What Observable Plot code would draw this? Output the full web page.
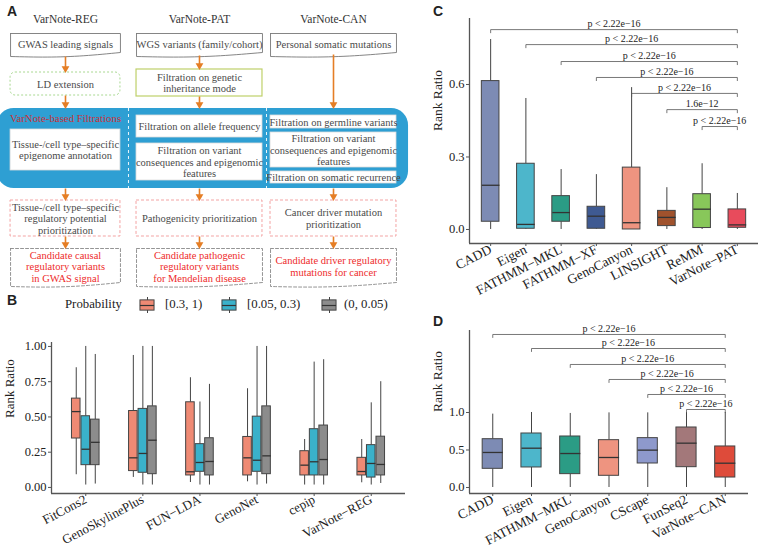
<!DOCTYPE html>
<html><head><meta charset="utf-8">
<script src="https://cdn.jsdelivr.net/npm/d3@7"></script>
<script src="https://cdn.jsdelivr.net/npm/@observablehq/plot@0.6"></script>
<style>
html,body{margin:0;padding:0;background:#fff;}
#root{position:relative;width:758px;height:548px;overflow:hidden;font-family:'Liberation Serif','Times New Roman',serif;color:#222;}
.pnl{position:absolute;}
.pnl svg text{font-family:'Liberation Serif','Times New Roman',serif;}
.letter{position:absolute;font-family:'Liberation Sans',Arial,sans-serif;font-weight:bold;font-size:14px;line-height:1;}
.lg{position:absolute;font-size:12.8px;line-height:1;white-space:nowrap;}
</style></head><body><div id="root"></div>
<script>
// ---------------- Panel A data ----------------
const aHeads = ["VarNote-REG", "VarNote-PAT", "VarNote-CAN"];
const aInputs = ["GWAS leading signals", "WGS variants (family/cohort)", "Personal somatic mutations"];
const aPre = ["LD extension", "Filtration on genetic\ninheritance mode"];
const aBlockTitle = "VarNote-based Filtrations";
const aFilters = [
  ["Tissue-/cell type\u2013specific\nepigenome annotation"],
  ["Filtration on allele frequency", "Filtration on variant\nconsequences and epigenomic\nfeatures"],
  ["Filtration on germline variants", "Filtration on variant\nconsequences and epigenomic\nfeatures", "Filtration on somatic recurrence"]
];
const aPrior = ["Tissue-/cell type\u2013specific\nregulatory potential\nprioritization", "Pathogenicity prioritization", "Cancer driver mutation\nprioritization"];
const aOutputs = ["Candidate causal\nregulatory variants\nin GWAS signal", "Candidate pathogenic\nregulatory variants\nfor Mendelian disease", "Candidate driver regulatory\nmutations for cancer"];

// ---------------- Panel B data ----------------
const bMethods = ["FitCons2", "GenoSkylinePlus", "FUN\u2212LDA", "GenoNet", "cepip", "VarNote\u2212REG"];
const bGroups = ["[0.3, 1)", "[0.05, 0.3)", "(0, 0.05)"];
const bColors = ["#EF8A74", "#3AB1CA", "#8C8C8C"];
// per method: [0.3-1, 0.05-0.3, 0-0.05]
const bLow  = [[0.09,0.017,0.024],[0.071,0.017,0.017],[0.035,0.017,0.017],[0.04,0.017,0.024],[0.017,0.017,0.017],[0.033,0.017,0.028]];
const bQ1   = [[0.347,0.158,0.158],[0.116,0.104,0.094],[0.085,0.111,0.085],[0.085,0.111,0.094],[0.085,0.085,0.085],[0.085,0.07,0.085]];
const bMed  = [[0.538,0.271,0.32],[0.21,0.241,0.335],[0.111,0.177,0.184],[0.21,0.193,0.224],[0.158,0.182,0.198],[0.113,0.17,0.163]];
const bQ3   = [[0.630,0.505,0.481],[0.542,0.557,0.575],[0.604,0.307,0.349],[0.358,0.502,0.575],[0.257,0.413,0.439],[0.21,0.30,0.36]];
const bHigh = [[0.849,1.0,0.943],[0.936,1.0,1.0],[0.778,0.606,0.731],[0.700,1.0,1.0],[0.340,0.889,0.906],[0.34,0.60,0.75]];
const bTicks = [0, 0.25, 0.5, 0.75, 1];

// ---------------- Panel C data ----------------
const cMethods = ["CADD", "Eigen", "FATHMM\u2212MKL", "FATHMM\u2212XF", "GenoCanyon", "LINSIGHT", "ReMM", "VarNote\u2212PAT"];
const cColors = ["#7D8BB4", "#4DB6CB", "#2B9C85", "#3F5A92", "#EE9480", "#A0522D", "#88C75A", "#E84B5C"];
const cLow  = [0, 0, 0, 0, 0, 0, 0, 0];
const cQ1   = [0.032, 0.003, 0.032, 0.003, 0.0, 0.014, 0.006, 0.007];
const cMed  = [0.183, 0.021, 0.070, 0.055, 0.028, 0.050, 0.084, 0.019];
const cQ3   = [0.614, 0.272, 0.138, 0.094, 0.256, 0.077, 0.146, 0.083];
const cHigh = [0.786, 0.542, 0.248, 0.227, 0.587, 0.173, 0.272, 0.149];
const cTicks = [0, 0.3, 0.6];
const cBrFrom  = [1, 2, 3, 4, 5, 6, 7];
const cBrLevel = [0.827, 0.765, 0.695, 0.629, 0.563, 0.496, 0.426];
const cBrLabel = ["p < 2.22e\u221216", "p < 2.22e\u221216", "p < 2.22e\u221216", "p < 2.22e\u221216", "p < 2.22e\u221216", "1.6e\u221212", "p < 2.22e\u221216"];

// ---------------- Panel D data ----------------
const dMethods = ["CADD", "Eigen", "FATHMM\u2212MKL", "GenoCanyon", "CScape", "FunSeq2", "VarNote\u2212CAN"];
const dColors = ["#7D8BB4", "#4DB6CB", "#2B9C85", "#EE9480", "#8E99CC", "#A3787A", "#DE4B3A"];
const dLow  = [0, 0, 0, 0, 0, 0, 0];
const dQ1   = [0.249, 0.267, 0.178, 0.156, 0.32, 0.271, 0.133];
const dMed  = [0.467, 0.524, 0.453, 0.40, 0.498, 0.591, 0.324];
const dQ3   = [0.644, 0.72, 0.68, 0.631, 0.658, 0.80, 0.547];
const dHigh = [0.978, 1.0, 0.987, 0.995, 0.995, 1.0, 1.0];
const dTicks = [0, 0.5, 1];
const dBrFrom  = [1, 2, 3, 4, 5, 6];
const dBrLevel = [2.04, 1.853, 1.64, 1.44, 1.24, 1.04];
const dBrLabel = ["p < 2.22e\u221216", "p < 2.22e\u221216", "p < 2.22e\u221216", "p < 2.22e\u221216", "p < 2.22e\u221216", "p < 2.22e\u221216"];

// ---------------- helpers ----------------
const root = document.getElementById("root");
function place(node, left, top) {
  const d = document.createElement("div");
  d.className = "pnl"; d.style.left = left + "px"; d.style.top = top + "px";
  d.appendChild(node); root.appendChild(d); return d;
}
function letter(t, left, top) {
  const d = document.createElement("div");
  d.className = "letter"; d.textContent = t; d.style.left = left + "px"; d.style.top = top + "px";
  root.appendChild(d);
}
const SERIF = "'Liberation Serif', 'Times New Roman', serif";

function boxPlot(o) {
  const n = o.labels.length;
  const h = o.half;
  const brs = (o.brFrom || []).map((f, k) => ({from: f, to: n, lvl: o.brLevel[k], label: o.brLabel[k], id: k}));
  const brPts = brs.flatMap(b => [
    {x: b.from, y: b.lvl - o.brTick, id: b.id}, {x: b.from, y: b.lvl, id: b.id},
    {x: b.to, y: b.lvl, id: b.id}, {x: b.to, y: b.lvl - o.brTick, id: b.id}]);
  return Plot.plot({
    width: o.width, height: o.height,
    marginLeft: o.mL, marginRight: o.mR, marginTop: o.mT, marginBottom: o.mB,
    x: {domain: [0.4, n + 0.6]},
    y: {domain: o.yDomain},
    color: {type: "identity"},
    style: {fontFamily: SERIF, fontSize: "12px", background: "transparent", overflow: "visible", color: "#222"},
    marks: [
      Plot.ruleY([o.yDomain[0]], {stroke: "#555", strokeWidth: 1.3}),
      Plot.ruleX([0.4], {stroke: "#555", strokeWidth: 1.3}),
      Plot.axisY({ticks: o.yTicks, tickFormat: o.yFmt, tickSize: 3, tickPadding: 2, stroke: "#555", fill: "#222", fontSize: o.yFont, fontFamily: SERIF, label: null}),
      Plot.axisX({ticks: d3.range(1, n + 1), tickFormat: i => o.labels[i - 1], tickSize: 3, tickPadding: 2, tickRotate: o.rot, stroke: "#555", fill: "#222", fontSize: o.xFont, fontFamily: SERIF, label: null}),
      Plot.ruleX(o.rows, {x: "x", y1: "lo", y2: "q1", stroke: "#444", strokeWidth: 1}),
      Plot.ruleX(o.rows, {x: "x", y1: "q3", y2: "hi", stroke: "#444", strokeWidth: 1}),
      Plot.rect(o.rows, {x1: d => d.x - h, x2: d => d.x + h, y1: "q1", y2: "q3", fill: "col", stroke: "#444", strokeWidth: 1}),
      Plot.link(o.rows, {x1: d => d.x - h, x2: d => d.x + h, y1: "med", y2: "med", stroke: "#333", strokeWidth: 1.3}),
      Plot.line(brPts, {x: "x", y: "y", z: "id", stroke: "#555", strokeWidth: 0.8}),
      Plot.text(brs, {x: d => (d.from + d.to) / 2, y: "lvl", text: "label", dy: -6, fontSize: 10, fontFamily: SERIF, fill: "#222"}),
      Plot.text(["Rank Ratio"], {frameAnchor: "left", rotate: -90, dx: o.labDx, fontSize: o.labFont, fontFamily: SERIF, fill: "#222"})
    ]
  });
}

// ---------------- Panel A ----------------
(function () {
  const orange = "#E57E25", blue = "#2E9FD3", txt = "#4a4a4a", red = "#EE2B2B";
  const colHalf = [0.41, 0.47, 0.47];
  const L = {head: 18, inp: [33, 56], pre: [[72, 95], [69, 96]], blue: [108, 188], title: 118,
    filt: [[[129, 170]], [[115, 137], [143, 180]], [[115, 128], [132, 167], [171, 183]]],
    prior: [200, 236], out: [248, 286]};
  function doc(i, y1, y2, id) {
    const x1 = i - colHalf[i], x2 = i + colHalf[i];
    const pts = [[x1, y1], [x2, y1], [x2, y2 - 4]];
    for (let k = 1; k <= 24; k++) {
      const t = 1 - k / 24;
      pts.push([x1 + t * (x2 - x1), y2 - 4 * t + 2.2 * Math.sin(Math.PI * t)]);
    }
    pts.push([x1, y1]);
    return pts.map(([x, y]) => ({x, y, id}));
  }
  const inNodes = aInputs.map((t, i) => ({i, t}));
  const outNodes = aOutputs.map((t, i) => ({i, t}));
  const inDocs = inNodes.flatMap(d => doc(d.i, L.inp[0], L.inp[1], "in" + d.i));
  const outDocs = outNodes.flatMap(d => doc(d.i, L.out[0], L.out[1], "out" + d.i));
  const preNodes = aPre.map((t, i) => ({i, t, y1: L.pre[i][0], y2: L.pre[i][1]}));
  const filtNodes = aFilters.flatMap((arr, i) => arr.map((t, k) => ({i, t, y1: L.filt[i][k][0], y2: L.filt[i][k][1]})));
  const priorNodes = aPrior.map((t, i) => ({i, t}));
  const arrows = [
    {i: 0, y1: L.inp[1], y2: L.pre[0][0]}, {i: 1, y1: L.inp[1] - 1, y2: L.pre[1][0]}, {i: 2, y1: L.inp[1] - 2, y2: L.blue[0]},
    {i: 0, y1: L.pre[0][1], y2: L.blue[0]}, {i: 1, y1: L.pre[1][1], y2: L.blue[0]},
    ...[0, 1, 2].map(i => ({i, y1: L.blue[1], y2: L.prior[0]})),
    ...[0, 1, 2].map(i => ({i, y1: L.prior[1], y2: L.out[0]}))
  ];
  const box = {x1: d => d.i - colHalf[d.i], x2: d => d.i + colHalf[d.i]};
  const fs = 10.5;
  const T = (data, opts) => Plot.text(data, {fontFamily: SERIF, lineHeight: 1.1, ...opts});
  const svg = Plot.plot({
    width: 410, height: 292, margin: 0,
    x: {domain: [-0.5, 2.5], range: [-2, 400], axis: null},
    y: {domain: [0, 292], range: [0, 292], axis: null},
    style: {fontFamily: SERIF, background: "transparent", overflow: "visible"},
    marks: [
      T(aHeads, {x: (d, i) => i, y: L.head, text: d => d, fontSize: 11.5, fill: "#333"}),
      Plot.line(inDocs, {x: "x", y: "y", z: "id", stroke: "#777", strokeWidth: 0.9, fill: "white"}),
      T(inNodes, {x: "i", y: (L.inp[0] + L.inp[1]) / 2 - 1, text: "t", fontSize: fs, fill: txt}),
      Plot.rect(preNodes.filter(d => d.i === 0), {...box, y1: "y1", y2: "y2", rx: 5, fill: "white", stroke: "#A8D890", strokeDasharray: "2,2", strokeWidth: 1}),
      Plot.rect(preNodes.filter(d => d.i === 1), {...box, y1: "y1", y2: "y2", fill: "white", stroke: "#BFD06A", strokeWidth: 1.2}),
      T(preNodes, {x: "i", y: d => (d.y1 + d.y2) / 2, text: "t", fontSize: fs, fill: txt}),
      Plot.rect([aBlockTitle], {x1: -0.51, x2: 2.56, y1: L.blue[0], y2: L.blue[1], rx: 17, fill: blue}),
      Plot.ruleX([(colHalf[0] + 1 - colHalf[1]) / 2, 1.5], {y1: L.blue[0], y2: L.blue[1], stroke: "white", strokeDasharray: "3,3", strokeWidth: 1, strokeOpacity: 0.9}),
      T([aBlockTitle], {x: 0, y: L.title, text: d => d, fontSize: 10.8, fill: "#C8333A"}),
      Plot.rect(filtNodes, {...box, y1: "y1", y2: "y2", fill: "white", stroke: "#dcdcdc", strokeWidth: 0.8}),
      T(filtNodes, {x: "i", y: d => (d.y1 + d.y2) / 2, text: "t", fontSize: fs, fill: txt}),
      Plot.rect(priorNodes, {...box, y1: L.prior[0], y2: L.prior[1], fill: "white", stroke: "#F3A3A3", strokeDasharray: "3,2", strokeWidth: 1}),
      T(priorNodes, {x: "i", y: (L.prior[0] + L.prior[1]) / 2, text: "t", fontSize: fs, fill: txt}),
      Plot.line(outDocs, {x: "x", y: "y", z: "id", stroke: "#888", strokeDasharray: "3,2", strokeWidth: 0.9, fill: "white"}),
      T(outNodes, {x: "i", y: (L.out[0] + L.out[1]) / 2 - 1, text: "t", fontSize: fs, fill: red}),
      Plot.link(arrows, {x1: "i", x2: "i", y1: "y1", y2: d => d.y2 - 5, stroke: orange, strokeWidth: 1.6}),
      Plot.dot(arrows, {x: "i", y: d => d.y2 - 4, symbol: "triangle", r: 2.9, rotate: 180, fill: orange, stroke: "none"})
    ]
  });
  place(svg, 0, 0);
  letter("A", 7, 4);
})();

// ---------------- Panel B ----------------
(function () {
  const rows = bMethods.flatMap((m, i) => bGroups.map((g, k) => ({
    x: i + 1 + (k - 1) / 6, lo: bLow[i][k], q1: bQ1[i][k], med: bMed[i][k], q3: bQ3[i][k], hi: bHigh[i][k], col: bColors[k]
  })));
  const svg = boxPlot({rows, half: 0.075, labels: bMethods, width: 405, height: 258, mL: 51, mR: 0, mT: 52, mB: 55,
    yDomain: [-0.043, 1.028], yTicks: bTicks, yFmt: d3.format(".2f"), yFont: 12.5, xFont: 13, rot: -28,
    labDx: -42, labFont: 13});
  place(svg, 0, 290);
  letter("B", 7, 293);
  // legend
  const lg = (t, left) => { const d = document.createElement("div"); d.className = "lg"; d.textContent = t; d.style.left = left + "px"; d.style.top = "298px"; root.appendChild(d); };
  lg("Probability", 65);
  const keyX = [139, 221, 321], txtX = [165, 247, 344];
  bGroups.forEach((g, k) => {
    const key = Plot.plot({
      width: 16, height: 16, margin: 0, x: {domain: [0, 1], axis: null}, y: {domain: [0, 1], axis: null},
      style: {background: "transparent", overflow: "visible"},
      marks: [
        Plot.ruleX([0.5], {y1: 0, y2: 1, stroke: "#444", strokeWidth: 1}),
        Plot.rect([g], {x1: 0.06, x2: 0.94, y1: 0.18, y2: 0.82, fill: bColors[k], stroke: "#444", strokeWidth: 1}),
        Plot.ruleY([0.5], {x1: 0.06, x2: 0.94, stroke: "#333", strokeWidth: 1.2})
      ]
    });
    place(key, keyX[k], 297);
    lg(g, txtX[k]);
  });
})();

// ---------------- Panel C ----------------
(function () {
  const rows = cMethods.map((m, i) => ({x: i + 1, lo: cLow[i], q1: cQ1[i], med: cMed[i], q3: cQ3[i], hi: cHigh[i], col: cColors[i]}));
  const svg = boxPlot({rows, half: 0.25, labels: cMethods, width: 378, height: 300, mL: 89, mR: 0, mT: 18, mB: 57,
    yDomain: [-0.058, 0.873], yTicks: cTicks, yFmt: d3.format(".1f"), yFont: 12.5, xFont: 13.5, rot: -27,
    labDx: -32, labFont: 13.5, brFrom: cBrFrom, brLevel: cBrLevel, brLabel: cBrLabel, brTick: 0.013});
  place(svg, 380, 0);
  letter("C", 433, 4);
})();

// ---------------- Panel D ----------------
(function () {
  const rows = dMethods.map((m, i) => ({x: i + 1, lo: dLow[i], q1: dQ1[i], med: dMed[i], q3: dQ3[i], hi: dHigh[i], col: dColors[i]}));
  const svg = boxPlot({rows, half: 0.26, labels: dMethods, width: 378, height: 248, mL: 89, mR: 10, mT: 30, mB: 55,
    yDomain: [-0.08, 2.093], yTicks: dTicks, yFmt: d3.format(".1f"), yFont: 12.5, xFont: 13.5, rot: -27,
    labDx: -32, labFont: 13.5, brFrom: dBrFrom, brLevel: dBrLevel, brLabel: dBrLabel, brTick: 0.04});
  place(svg, 380, 300);
  letter("D", 433, 314);
})();
</script></body></html>
